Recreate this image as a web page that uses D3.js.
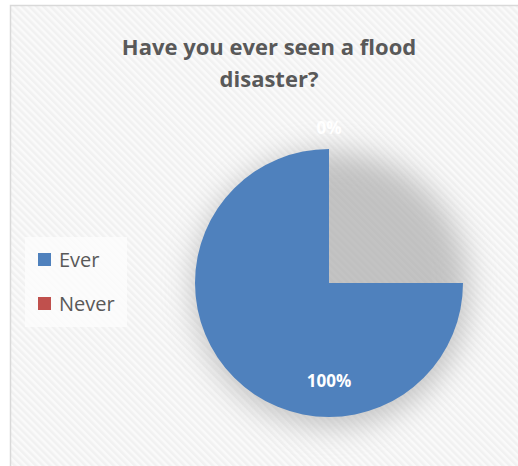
<!DOCTYPE html>
<html lang="en">
<head>
<meta charset="UTF-8">
<title>Have you ever seen a flood disaster?</title>
<style>
  body { margin: 0; background: #fff; }
  svg text { font-family: 'Open Sans', 'DejaVu Sans', Arial, sans-serif; }
</style>
</head>
<body>
<div id="chart"></div>
<script src="https://d3js.org/d3.v7.min.js"></script>
<script>
  // data
  var categories = ["Ever", "Never"];
  var values = [100, 0];
  var labels = ["100%", "0%"];
  var colors = ["#4f81bd", "#c0504d"];
  var title = ["Have you ever seen a flood", "disaster?"];

  var W = 518, H = 466;
  var svg = d3.select("#chart").append("svg")
    .attr("width", W).attr("height", H);

  var defs = svg.append("defs");

  // light diagonal background texture
  var pat = defs.append("pattern")
    .attr("id", "bgpat")
    .attr("width", 5).attr("height", 5)
    .attr("patternUnits", "userSpaceOnUse")
    .attr("patternTransform", "rotate(-45)");
  pat.append("rect").attr("width", 5).attr("height", 5).attr("fill", "#fafafa");
  pat.append("rect").attr("width", 2.5).attr("height", 5).attr("fill", "#f1f1f1");

  var blur = defs.append("filter").attr("id", "shadow")
    .attr("x", "-50%").attr("y", "-50%").attr("width", "200%").attr("height", "200%");
  blur.append("feGaussianBlur").attr("stdDeviation", 15);

  // chart area with border
  svg.append("rect")
    .attr("x", 10.5).attr("y", 5.5)
    .attr("width", W).attr("height", H)
    .attr("fill", "url(#bgpat)")
    .attr("stroke", "#d9d9d9")
    .attr("stroke-width", 1.5);

  // title
  svg.append("g").selectAll("text")
    .data(title)
    .join("text")
    .attr("x", 269)
    .attr("y", (d, i) => 55 + i * 32)
    .attr("text-anchor", "middle")
    .attr("font-size", 22)
    .attr("font-weight", "bold")
    .attr("fill", "#595959")
    .text(d => d);

  // pie
  var cx = 329, cy = 283, r = 134;
  var g = svg.append("g").attr("transform", `translate(${cx},${cy})`);

  // soft shadow under the pie
  g.append("circle")
    .attr("cx", 2).attr("cy", 6)
    .attr("r", r + 4)
    .attr("fill", "#a0a0a0")
    .attr("opacity", 0.6)
    .attr("filter", "url(#shadow)");

  var data = categories.map((c, i) => ({ name: c, value: values[i], label: labels[i], color: colors[i] }));

  // shape as drawn in the source (sweep from 3 o'clock round to 12 o'clock)
  var shapePie = d3.pie().sort(null).value(d => d.value)
    .startAngle(Math.PI / 2).endAngle(2 * Math.PI);
  // label placement uses a standard full pie
  var labelPie = d3.pie().sort(null).value(d => d.value);

  var arc = d3.arc().innerRadius(0).outerRadius(r);

  g.selectAll("path")
    .data(shapePie(data))
    .join("path")
    .attr("d", arc)
    .attr("fill", d => d.data.color);

  var inArc = d3.arc().innerRadius(r * 0.73).outerRadius(r * 0.73);
  var outArc = d3.arc().innerRadius(r * 1.16).outerRadius(r * 1.16);

  g.selectAll(".lbl")
    .data(labelPie(data))
    .join("text")
    .attr("class", "lbl")
    .attr("transform", d => {
      var a = d.endAngle - d.startAngle > 0 ? inArc : outArc;
      var p = a.centroid(d);
      return `translate(${p[0]},${p[1]})`;
    })
    .attr("dy", "0.35em")
    .attr("text-anchor", "middle")
    .attr("font-size", 17)
    .attr("font-weight", "bold")
    .attr("fill", "#fff")
    .text(d => d.data.label);

  // legend
  var leg = svg.append("g").attr("transform", "translate(25,237)");
  leg.append("rect")
    .attr("width", 102).attr("height", 90)
    .attr("fill", "#fdfdfd").attr("opacity", 0.8);
  var items = leg.selectAll(".item")
    .data(data)
    .join("g")
    .attr("class", "item")
    .attr("transform", (d, i) => `translate(13,${16 + i * 44})`);
  items.append("rect")
    .attr("width", 13).attr("height", 13)
    .attr("fill", d => d.color);
  items.append("text")
    .attr("x", 21).attr("y", 6.5)
    .attr("dy", "0.35em")
    .attr("font-size", 20)
    .attr("fill", "#595959")
    .text(d => d.name);
</script>
</body>
</html>
